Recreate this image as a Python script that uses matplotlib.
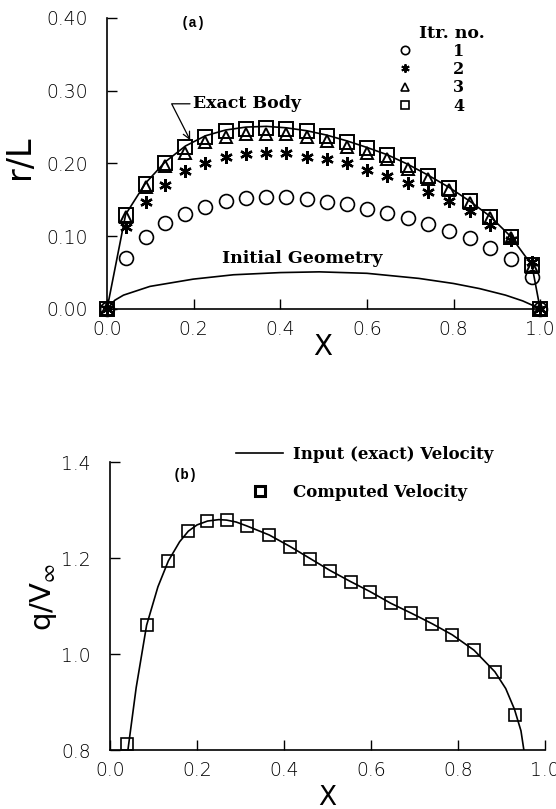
import matplotlib
matplotlib.use('Agg')
import matplotlib.pyplot as plt
from matplotlib.lines import Line2D

# ---- panel (a): body shape r/L per iteration ----
itr_x = [0.0, 0.043, 0.089, 0.134, 0.181, 0.227, 0.274, 0.321, 0.368, 0.414, 0.461,
         0.507, 0.554, 0.600, 0.647, 0.694, 0.741, 0.790, 0.838, 0.885, 0.933, 0.981, 1.0]
itr1_r = [0.0, 0.070, 0.0995, 0.118, 0.131, 0.140, 0.149, 0.152, 0.1535, 0.1535, 0.151,
          0.1475, 0.144, 0.138, 0.132, 0.125, 0.117, 0.107, 0.097, 0.084, 0.068, 0.044, 0.0]
itr2_r = [0.0, 0.112, 0.1475, 0.170, 0.189, 0.200, 0.209, 0.213, 0.214, 0.214, 0.209,
          0.206, 0.200, 0.191, 0.183, 0.173, 0.161, 0.148, 0.134, 0.115, 0.095, 0.065, 0.0]
itr3_r = [0.0, 0.127, 0.168, 0.196, 0.214, 0.229, 0.237, 0.240, 0.241, 0.240, 0.236,
          0.231, 0.223, 0.215, 0.206, 0.193, 0.179, 0.163, 0.146, 0.125, 0.098, 0.058, 0.0]
itr4_r = [0.0, 0.129, 0.172, 0.201, 0.223, 0.237, 0.245, 0.248, 0.249, 0.248, 0.244,
          0.238, 0.230, 0.221, 0.211, 0.198, 0.183, 0.166, 0.148, 0.127, 0.099, 0.060, 0.0]

exact_x = itr_x
exact_r = [0.0, 0.130, 0.173, 0.202, 0.224, 0.238, 0.246, 0.250, 0.251, 0.249, 0.245,
           0.239, 0.231, 0.222, 0.212, 0.199, 0.184, 0.167, 0.148, 0.127, 0.099, 0.060, 0.0]

init_x = [0.0, 0.018, 0.038, 0.099, 0.199, 0.292, 0.40, 0.49, 0.60, 0.72, 0.80,
          0.86, 0.92, 0.96, 0.99, 1.0]
init_r = [0.0, 0.012, 0.019, 0.031, 0.041, 0.047, 0.050, 0.051, 0.049, 0.042, 0.035,
          0.028, 0.019, 0.011, 0.003, 0.0]

# ---- panel (b): surface velocity ----
vel_x = [0.038, 0.084, 0.134, 0.18, 0.224, 0.268, 0.314, 0.366, 0.414, 0.46,
         0.506, 0.553, 0.598, 0.645, 0.693, 0.741, 0.787, 0.837, 0.885, 0.931]
vel_q = [0.8125, 1.060, 1.194, 1.256, 1.277, 1.279, 1.267, 1.248, 1.224, 1.199,
         1.174, 1.151, 1.130, 1.106, 1.085, 1.063, 1.040, 1.008, 0.963, 0.873]

inp_x = [0.03, 0.041, 0.06, 0.084, 0.11, 0.134, 0.16, 0.18, 0.20, 0.224, 0.25, 0.268,
         0.29, 0.314, 0.366, 0.414, 0.46, 0.506, 0.553, 0.598, 0.645, 0.693, 0.741,
         0.787, 0.837, 0.885, 0.91, 0.93, 0.945, 0.955]
inp_q = [0.74, 0.80, 0.93, 1.06, 1.14, 1.194, 1.234, 1.256, 1.269, 1.277, 1.280, 1.279,
         1.275, 1.267, 1.248, 1.224, 1.199, 1.174, 1.151, 1.130, 1.106, 1.085, 1.063,
         1.040, 1.008, 0.963, 0.928, 0.885, 0.84, 0.78]

serif = dict(family='DejaVu Serif', weight='bold')
mono = dict(family='Liberation Mono', weight='bold')
plt.rcParams['font.family'] = 'DejaVu Sans'
plt.rcParams['font.weight'] = 'light'

fig = plt.figure(figsize=(5.56, 8.09), dpi=100)
ax1 = fig.add_axes([0.1925, 0.6181, 0.779, 0.3597])
ax2 = fig.add_axes([0.198, 0.0729, 0.782, 0.356])

for ax in (ax1, ax2):
    ax.spines['top'].set_visible(False)
    ax.spines['right'].set_visible(False)
    ax.spines['left'].set_linewidth(1.2)
    ax.spines['bottom'].set_linewidth(1.2)
    ax.tick_params(direction='in', length=7, width=1.0, labelsize=13.5, pad=8)
    ax.tick_params(axis='y', pad=14)
    ax.set_xlim(0, 1.0)
    ax.set_xticks([0, 0.2, 0.4, 0.6, 0.8, 1.0])
    ax.set_xticklabels(['0.0', '0.2', '0.4', '0.6', '0.8', '1.0'])

# panel (a)
ax1.plot(exact_x, exact_r, '-', color='k', lw=1.2)
ax1.plot(init_x, init_r, '-', color='k', lw=1.2)
mk = dict(ls='none', mfc='none', mec='k', clip_on=False)
ax1.plot(itr_x, itr1_r, marker='o', ms=10, mew=1.2, **mk)
ax1.plot(itr_x, itr2_r, marker=(6, 2, 0), ms=9, mew=1.7, **mk)
ax1.plot(itr_x, itr3_r, marker='^', ms=9, mew=1.4, **mk)
ax1.plot(itr_x, itr4_r, marker='s', ms=10, mew=1.4, **mk)

ax1.set_ylim(0, 0.4)
ax1.set_yticks([0, 0.1, 0.2, 0.3, 0.4])
ax1.set_yticklabels(['0.00', '0.10', '0.20', '0.30', '0.40'])
ax1.set_xlabel('X', fontsize=20, va='baseline')
ax1.xaxis.set_label_coords(0.499, -0.158)
ax1.set_ylabel('r/L', fontsize=24)
ax1.yaxis.set_label_coords(-0.165, 0.52)

ax1.text(0.2, 0.393, '(a)', ha='center', va='center', fontsize=10, **mono)
ax1.text(0.45, 0.070, 'Initial Geometry', ha='center', va='center', fontsize=12.5, **serif)
ax1.annotate('Exact Body', xy=(0.192, 0.232), xytext=(0.198, 0.282),
             ha='left', va='center', fontsize=12.5, **serif,
             arrowprops=dict(arrowstyle='->', color='k', lw=0.9,
                             connectionstyle='angle,angleA=180,angleB=117,rad=0',
                             shrinkA=0, shrinkB=0))

ax1.text(0.797, 0.379, 'Itr. no.', ha='center', va='center', fontsize=12.5, **serif)
leg_handles = [
    Line2D([], [], ls='none', marker='o', ms=6, mfc='none', mec='k', mew=1.2),
    Line2D([], [], ls='none', marker=(6, 2, 0), ms=6, mec='k', mew=1.4),
    Line2D([], [], ls='none', marker='^', ms=6, mfc='none', mec='k', mew=1.2),
    Line2D([], [], ls='none', marker='s', ms=6, mfc='none', mec='k', mew=1.2),
]
ax1.legend(leg_handles, ['1', '2', '3', '4'], loc='upper left',
           bbox_to_anchor=(0.67, 0.915), frameon=False, handlelength=1.0,
           handletextpad=2.5, labelspacing=0.08, borderpad=0, borderaxespad=0,
           prop=dict(size=11.5, **serif))

# panel (b)
ax2.plot(inp_x, inp_q, '-', color='k', lw=1.2)
ax2.plot(vel_x, vel_q, ls='none', marker='s', ms=9, mfc='none', mec='k', mew=1.2,
         clip_on=False)
ax2.set_ylim(0.8, 1.4)
ax2.set_yticks([0.8, 1.0, 1.2, 1.4])
ax2.set_yticklabels(['0.8', '1.0', '1.2', '1.4'])
ax2.set_xlabel('X', fontsize=19, va='baseline')
ax2.xaxis.set_label_coords(0.499, -0.19)
ax2.set_ylabel(r'q/V$_\infty$', fontsize=21)
ax2.yaxis.set_label_coords(-0.118, 0.53)
ax2.text(0.172, 1.373, '(b)', ha='center', va='center', fontsize=10, **mono)

h_line = Line2D([], [], color='k', lw=1.2)
h_sq = Line2D([], [], ls='none', marker='s', ms=7, mfc='none', mec='k', mew=2.2)
ax2.legend([h_line, h_sq], ['Input (exact) Velocity', 'Computed Velocity'],
           loc='upper left', bbox_to_anchor=(0.29, 1.056), frameon=False,
           handlelength=2.8, handletextpad=0.6, labelspacing=1.25,
           borderpad=0, borderaxespad=0, prop=dict(size=12, **serif))

fig.savefig('out.png', dpi=100)
